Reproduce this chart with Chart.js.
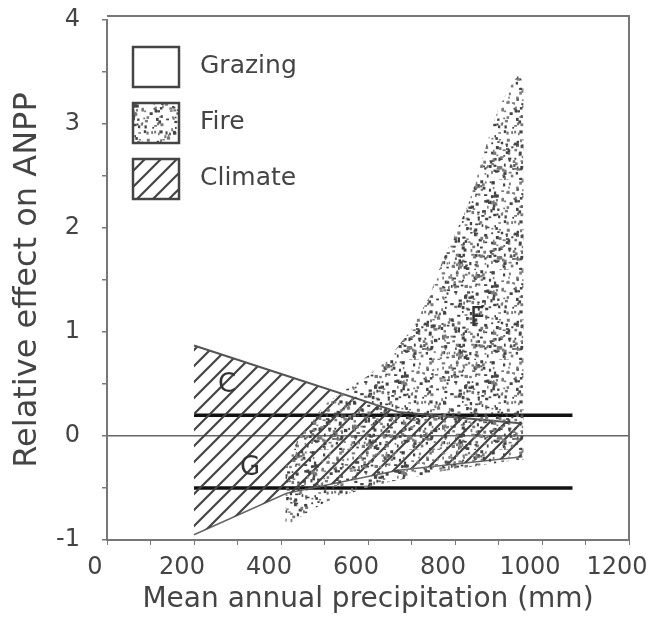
<!DOCTYPE html>
<html>
<head>
<meta charset="utf-8">
<script src="https://cdn.jsdelivr.net/npm/chart.js@4.4.0/dist/chart.umd.min.js"></script>
<style>
  html, body { margin: 0; padding: 0; background: #fff; }
  #wrap { width: 649px; height: 631px; position: relative; }
</style>
</head>
<body>
<div id="wrap"><canvas id="anppChart"></canvas></div>
<script>
// Valores (mm de precipitación / efecto relativo)
const seriesNames = ['Grazing', 'Fire', 'Climate'];

const grazingX = [200, 1070];
const grazingUpper = [0.2, 0.2];
const grazingLower = [-0.5, -0.5];

const fireX = [410, 440, 500, 550, 600, 650, 700, 740, 770, 800, 830, 850, 875, 900, 925, 945, 958];
const fireUpper = [-0.3, -0.02, 0.3, 0.45, 0.58, 0.76, 1.03, 1.33, 1.68, 1.94, 2.22, 2.48, 2.84, 3.15, 3.35, 3.47, 3.4];
const fireLower = [-0.88, -0.79, -0.64, -0.56, -0.5, -0.44, -0.4, -0.37, -0.34, -0.32, -0.3, -0.29, -0.27, -0.26, -0.24, -0.23, -0.23];

const climateX = [200, 413, 670, 955];
const climateUpper = [0.87, 0.58, 0.23, 0.12];
const climateLower = [-0.95, -0.55, -0.33, -0.2];

const regionLabels = [
  { text: 'C', x: 276, y: 0.49 },
  { text: 'G', x: 329, y: -0.31 },
  { text: 'F', x: 851, y: 1.12 }
];

const xTickLabels = [0, 200, 400, 600, 800, 1000, 1200];
const yTickLabels = [-1, 0, 1, 2, 3, 4];

// Texturas de relleno
function makeHatch() {
  const s = 16;
  const c = document.createElement('canvas');
  c.width = s; c.height = s;
  const g = c.getContext('2d');
  g.strokeStyle = '#444';
  g.lineWidth = 2.2;
  g.beginPath();
  g.moveTo(0, s); g.lineTo(s, 0);
  g.moveTo(-2, 2); g.lineTo(2, -2);
  g.moveTo(s - 2, s + 2); g.lineTo(s + 2, s - 2);
  g.stroke();
  return g.createPattern(c, 'repeat');
}

function makeStipple() {
  const s = 90;
  const c = document.createElement('canvas');
  c.width = s; c.height = s;
  const g = c.getContext('2d');
  const h = n => { const v = Math.sin(n * 12.9898 + 78.233) * 43758.5453; return v - Math.floor(v); };
  for (let i = 0; i < 420; i++) {
    const px = h(i * 3 + 1) * s;
    const py = h(i * 3 + 2) * s;
    const w = 1.5 + h(i * 3 + 3) * 2;
    g.fillStyle = h(i * 7 + 5) > 0.45 ? '#444' : '#7a7a7a';
    g.fillRect(px, py, w, 1.5 + h(i * 5 + 9) * 1.8);
  }
  return g.createPattern(c, 'repeat');
}

const hatch = makeHatch();
const stipple = makeStipple();
const legendFills = [null, stipple, hatch];

const toPoints = (xs, ys) => xs.map((x, i) => ({ x: x, y: ys[i] }));

// Quitar el margen extra que Chart.js reserva para las etiquetas
function noLabelPadding(s) {
  s.paddingTop = 0; s.paddingBottom = 0;
  s.paddingLeft = 0; s.paddingRight = 0;
}

// Marco superior y derecho
const framePlugin = {
  id: 'frame',
  afterDraw(chart) {
    const { ctx, chartArea: a } = chart;
    ctx.save();
    ctx.strokeStyle = '#777';
    ctx.lineWidth = 2;
    ctx.beginPath();
    ctx.moveTo(a.left, a.top - 4);
    ctx.lineTo(a.right, a.top - 4);
    ctx.lineTo(a.right, a.bottom);
    ctx.stroke();
    ctx.restore();
  }
};

// Leyenda con cajas dentro del área
const boxLegend = {
  id: 'boxLegend',
  afterDraw(chart) {
    const { ctx, chartArea: a } = chart;
    ctx.save();
    seriesNames.forEach((name, i) => {
      const bx = a.left + 26, by = a.top + 27 + i * 56;
      if (legendFills[i]) {
        ctx.fillStyle = legendFills[i];
        ctx.fillRect(bx, by, 46, 40);
      }
      ctx.strokeStyle = '#444';
      ctx.lineWidth = 2.5;
      ctx.strokeRect(bx, by, 46, 40);
      ctx.fillStyle = '#444';
      ctx.font = '25px "DejaVu Sans"';
      ctx.textBaseline = 'middle';
      ctx.fillText(name, a.left + 93, by + 19);
    });
    ctx.restore();
  }
};

// Letras C, G, F sobre las regiones
const regionText = {
  id: 'regionText',
  afterDatasetsDraw(chart) {
    const { ctx, scales } = chart;
    ctx.save();
    ctx.fillStyle = '#333';
    ctx.font = '26px "DejaVu Sans"';
    ctx.textAlign = 'center';
    ctx.textBaseline = 'middle';
    regionLabels.forEach(l => {
      ctx.fillText(l.text, scales.x.getPixelForValue(l.x), scales.y.getPixelForValue(l.y));
    });
    ctx.restore();
  }
};

const ctx = document.getElementById('anppChart').getContext('2d');
new Chart(ctx, {
  type: 'line',
  data: {
    datasets: [
      {
        label: 'Fire',
        data: toPoints(fireX, fireUpper),
        borderWidth: 0,
        pointRadius: 0,
        fill: '+1',
        backgroundColor: stipple
      },
      {
        label: 'Fire lower',
        data: toPoints(fireX, fireLower),
        borderWidth: 0,
        pointRadius: 0,
        fill: false
      },
      {
        label: 'Climate',
        data: toPoints(climateX, climateUpper),
        borderColor: '#555',
        borderWidth: 2,
        pointRadius: 0,
        fill: '+1',
        backgroundColor: hatch
      },
      {
        label: 'Climate lower',
        data: toPoints(climateX, climateLower),
        borderColor: '#666',
        borderWidth: 1.5,
        pointRadius: 0,
        fill: false
      },
      {
        label: 'Grazing',
        data: toPoints(grazingX, grazingUpper),
        borderColor: '#111',
        borderWidth: 3.5,
        pointRadius: 0,
        fill: false
      },
      {
        label: 'Grazing lower',
        data: toPoints(grazingX, grazingLower),
        borderColor: '#111',
        borderWidth: 3.5,
        pointRadius: 0,
        fill: false
      }
    ]
  },
  options: {
    responsive: true,
    maintainAspectRatio: false,
    animation: false,
    layout: { padding: { top: 20, right: 20, left: 0, bottom: 0 } },
    plugins: {
      legend: { display: false },
      tooltip: { enabled: false }
    },
    scales: {
      x: {
        type: 'linear',
        min: 0,
        max: 1200,
        afterFit: s => { s.height = 91; noLabelPadding(s); },
        border: { color: '#777', width: 2 },
        grid: { drawOnChartArea: false, tickLength: 5, tickColor: '#777' },
        ticks: {
          stepSize: 100,
          autoSkip: false,
          maxRotation: 0,
          padding: 8,
          labelOffset: -12,
          color: '#444',
          font: { family: 'DejaVu Sans', size: 24 },
          callback: v => xTickLabels.includes(v) ? String(v) : ''
        },
        title: {
          display: true,
          text: 'Mean annual precipitation (mm)',
          color: '#444',
          font: { family: 'DejaVu Sans', size: 28 },
          padding: { bottom: 14 }
        }
      },
      y: {
        type: 'linear',
        min: -1,
        max: 4,
        afterFit: s => { s.width = 107; noLabelPadding(s); },
        border: { color: '#777', width: 2 },
        grid: {
          color: c => c.tick && c.tick.value === 0 ? '#666' : 'transparent',
          lineWidth: 1.5,
          tickLength: 5,
          tickColor: '#777'
        },
        ticks: {
          stepSize: 0.5,
          padding: 22,
          color: '#444',
          font: { family: 'DejaVu Sans', size: 24 },
          callback: v => yTickLabels.includes(v) ? String(v) : ''
        },
        title: {
          display: true,
          text: 'Relative effect on ANPP',
          color: '#444',
          font: { family: 'DejaVu Sans', size: 32 },
          padding: { top: 8 }
        }
      }
    }
  },
  plugins: [framePlugin, boxLegend, regionText]
});
</script>
</body>
</html>
